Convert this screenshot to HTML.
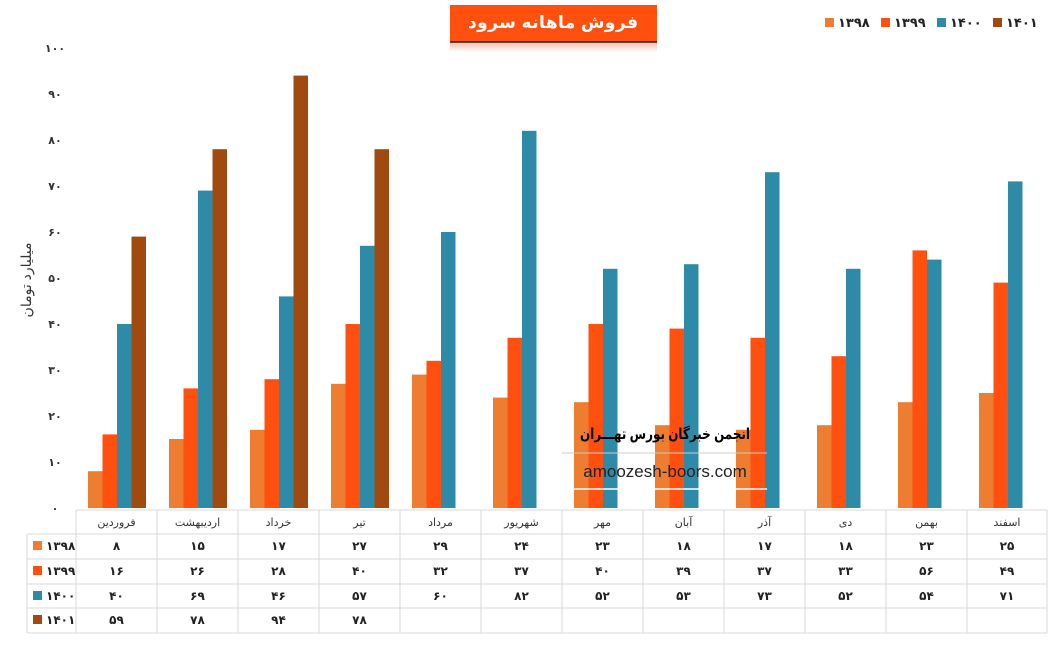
<!DOCTYPE html>
<html><head><meta charset="utf-8"><style>body{margin:0;background:#fff}svg{display:block}text{font-family:"Liberation Sans","DejaVu Sans",sans-serif}</style></head><body>
<svg width="1057" height="653" viewBox="0 0 1057 653" xmlns="http://www.w3.org/2000/svg">
<defs><linearGradient id="sh" x1="0" y1="0" x2="0" y2="1"><stop offset="0" stop-color="#f3b9a0"/><stop offset="1" stop-color="#fff"/></linearGradient></defs>
<rect x="450" y="42" width="207" height="10" fill="url(#sh)"/>
<rect x="450" y="5" width="207" height="37" fill="#FF5010"/>
<line x1="450" y1="42" x2="657" y2="42" stroke="#222" stroke-width="1.5"/>
<text x="553" y="28" fill="#fff" font-size="17" font-weight="bold" text-anchor="middle" direction="rtl" textLength="170" lengthAdjust="spacing">فروش ماهانه سرود</text>
<g font-size="13" font-weight="bold" fill="#222">
<rect x="825" y="18" width="9" height="9" fill="#ED7D31"/><text x="838" y="27">۱۳۹۸</text>
<rect x="881" y="18" width="9" height="9" fill="#FF5010"/><text x="894" y="27">۱۳۹۹</text>
<rect x="937" y="18" width="9" height="9" fill="#2E8BA8"/><text x="950" y="27">۱۴۰۰</text>
<rect x="993" y="18" width="9" height="9" fill="#A04A10"/><text x="1006" y="27">۱۴۰۱</text>
</g>
<g font-size="11" fill="#333" text-anchor="middle" font-weight="bold">
<text x="55" y="52">۱۰۰</text><text x="55" y="98">۹۰</text><text x="55" y="144">۸۰</text><text x="55" y="190">۷۰</text><text x="55" y="236">۶۰</text><text x="55" y="282">۵۰</text><text x="55" y="328">۴۰</text><text x="55" y="374">۳۰</text><text x="55" y="420">۲۰</text><text x="55" y="466">۱۰</text><text x="55" y="512">۰</text>
</g>
<text transform="translate(31,280) rotate(-90)" font-size="14" fill="#333" text-anchor="middle">میلیارد تومان</text>
<g>
<g fill="#ED7D31">
<rect x="88" y="471.2" width="14.5" height="36.8"/><rect x="169" y="439" width="14.5" height="69"/><rect x="250" y="429.8" width="14.5" height="78.2"/><rect x="331" y="383.8" width="14.5" height="124.2"/><rect x="412" y="374.6" width="14.5" height="133.4"/><rect x="493" y="397.6" width="14.5" height="110.4"/><rect x="574" y="402.2" width="14.5" height="105.8"/><rect x="655" y="425.2" width="14.5" height="82.8"/><rect x="736" y="429.8" width="14.5" height="78.2"/><rect x="817" y="425.2" width="14.5" height="82.8"/><rect x="898" y="402.2" width="14.5" height="105.8"/><rect x="979" y="393" width="14.5" height="115"/>
</g>
<g fill="#FF5010">
<rect x="102.5" y="434.4" width="14.5" height="73.6"/><rect x="183.5" y="388.4" width="14.5" height="119.6"/><rect x="264.5" y="379.2" width="14.5" height="128.8"/><rect x="345.5" y="324" width="14.5" height="184"/><rect x="426.5" y="360.8" width="14.5" height="147.2"/><rect x="507.5" y="337.8" width="14.5" height="170.2"/><rect x="588.5" y="324" width="14.5" height="184"/><rect x="669.5" y="328.6" width="14.5" height="179.4"/><rect x="750.5" y="337.8" width="14.5" height="170.2"/><rect x="831.5" y="356.2" width="14.5" height="151.8"/><rect x="912.5" y="250.4" width="14.5" height="257.6"/><rect x="993.5" y="282.6" width="14.5" height="225.4"/>
</g>
<g fill="#2E8BA8">
<rect x="117" y="324" width="14.5" height="184"/><rect x="198" y="190.6" width="14.5" height="317.4"/><rect x="279" y="296.4" width="14.5" height="211.6"/><rect x="360" y="245.8" width="14.5" height="262.2"/><rect x="441" y="232" width="14.5" height="276"/><rect x="522" y="130.8" width="14.5" height="377.2"/><rect x="603" y="268.8" width="14.5" height="239.2"/><rect x="684" y="264.2" width="14.5" height="243.8"/><rect x="765" y="172.2" width="14.5" height="335.8"/><rect x="846" y="268.8" width="14.5" height="239.2"/><rect x="927" y="259.6" width="14.5" height="248.4"/><rect x="1008" y="181.4" width="14.5" height="326.6"/>
</g>
<g fill="#A04A10">
<rect x="131.5" y="236.6" width="14.5" height="271.4"/><rect x="212.5" y="149.2" width="14.5" height="358.8"/><rect x="293.5" y="75.6" width="14.5" height="432.4"/><rect x="374.5" y="149.2" width="14.5" height="358.8"/>
</g>
</g>
<line x1="562" y1="453" x2="767" y2="453" stroke="#ccc"/>
<line x1="562" y1="489" x2="767" y2="489" stroke="#fff" stroke-width="1.5"/>
<text x="665" y="439" font-size="15" font-weight="bold" fill="#000" text-anchor="middle" direction="rtl" textLength="170" lengthAdjust="spacingAndGlyphs">انجمن خبرگان بورس تهـــران</text>
<text x="665" y="477" font-size="17" fill="#222" text-anchor="middle">amoozesh-boors.com</text>
<g stroke="#d9d9d9" stroke-width="1" fill="none">
<line x1="76" y1="510" x2="1047" y2="510"/>
<line x1="27" y1="534" x2="1047" y2="534"/>
<line x1="27" y1="559" x2="1047" y2="559"/>
<line x1="27" y1="584" x2="1047" y2="584"/>
<line x1="27" y1="608" x2="1047" y2="608"/>
<line x1="27" y1="633" x2="1047" y2="633"/>
<line x1="27" y1="534" x2="27" y2="633"/>
<line x1="76" y1="510" x2="76" y2="633"/><line x1="157" y1="510" x2="157" y2="633"/><line x1="238" y1="510" x2="238" y2="633"/><line x1="319" y1="510" x2="319" y2="633"/><line x1="400" y1="510" x2="400" y2="633"/><line x1="481" y1="510" x2="481" y2="633"/><line x1="562" y1="510" x2="562" y2="633"/><line x1="643" y1="510" x2="643" y2="633"/><line x1="724" y1="510" x2="724" y2="633"/><line x1="805" y1="510" x2="805" y2="633"/><line x1="886" y1="510" x2="886" y2="633"/><line x1="967" y1="510" x2="967" y2="633"/><line x1="1047" y1="510" x2="1047" y2="633"/>
</g>
<g font-size="11" fill="#333" text-anchor="middle">
<text x="116.5" y="526">فروردین</text><text x="197.5" y="526">اردیبهشت</text><text x="278.5" y="526">خرداد</text><text x="359.5" y="526">تیر</text><text x="440.5" y="526">مرداد</text><text x="521.5" y="526">شهریور</text><text x="602.5" y="526">مهر</text><text x="683.5" y="526">آبان</text><text x="764.5" y="526">آذر</text><text x="845.5" y="526">دی</text><text x="926.5" y="526">بهمن</text><text x="1007" y="526">اسفند</text>
</g>
<g font-size="12" font-weight="bold" fill="#222">
<rect x="33" y="541" width="9" height="9" fill="#ED7D31"/><text x="46" y="550">۱۳۹۸</text>
<rect x="33" y="566" width="9" height="9" fill="#FF5010"/><text x="46" y="575">۱۳۹۹</text>
<rect x="33" y="591" width="9" height="9" fill="#2E8BA8"/><text x="46" y="600">۱۴۰۰</text>
<rect x="33" y="615" width="9" height="9" fill="#A04A10"/><text x="46" y="624">۱۴۰۱</text>
</g>
<g font-size="12" font-weight="bold" fill="#222" text-anchor="middle">
<text x="116.5" y="550">۸</text><text x="197.5" y="550">۱۵</text><text x="278.5" y="550">۱۷</text><text x="359.5" y="550">۲۷</text><text x="440.5" y="550">۲۹</text><text x="521.5" y="550">۲۴</text><text x="602.5" y="550">۲۳</text><text x="683.5" y="550">۱۸</text><text x="764.5" y="550">۱۷</text><text x="845.5" y="550">۱۸</text><text x="926.5" y="550">۲۳</text><text x="1007" y="550">۲۵</text>
<text x="116.5" y="575">۱۶</text><text x="197.5" y="575">۲۶</text><text x="278.5" y="575">۲۸</text><text x="359.5" y="575">۴۰</text><text x="440.5" y="575">۳۲</text><text x="521.5" y="575">۳۷</text><text x="602.5" y="575">۴۰</text><text x="683.5" y="575">۳۹</text><text x="764.5" y="575">۳۷</text><text x="845.5" y="575">۳۳</text><text x="926.5" y="575">۵۶</text><text x="1007" y="575">۴۹</text>
<text x="116.5" y="600">۴۰</text><text x="197.5" y="600">۶۹</text><text x="278.5" y="600">۴۶</text><text x="359.5" y="600">۵۷</text><text x="440.5" y="600">۶۰</text><text x="521.5" y="600">۸۲</text><text x="602.5" y="600">۵۲</text><text x="683.5" y="600">۵۳</text><text x="764.5" y="600">۷۳</text><text x="845.5" y="600">۵۲</text><text x="926.5" y="600">۵۴</text><text x="1007" y="600">۷۱</text>
<text x="116.5" y="624">۵۹</text><text x="197.5" y="624">۷۸</text><text x="278.5" y="624">۹۴</text><text x="359.5" y="624">۷۸</text>
</g>
</svg>
</body></html>
